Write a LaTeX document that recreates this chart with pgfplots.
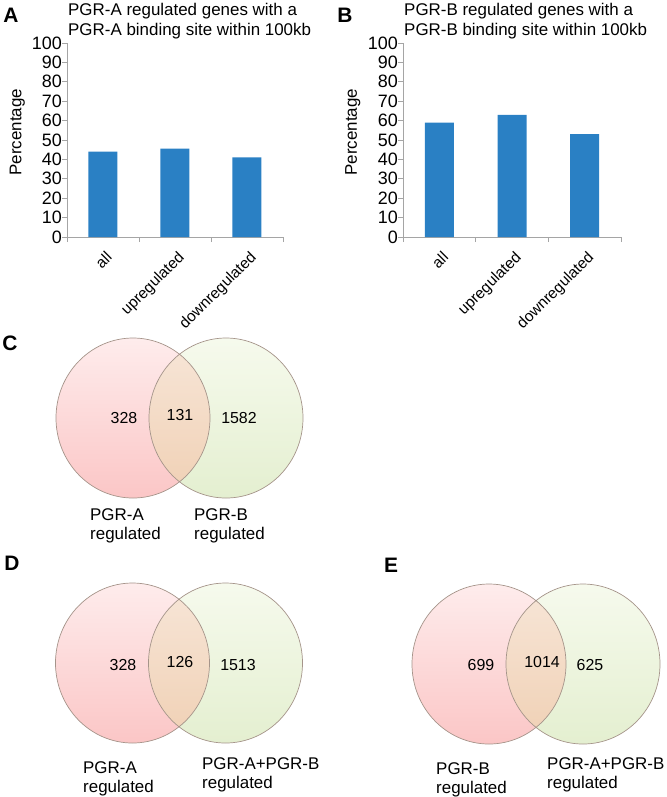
\documentclass[border=0pt]{standalone}
\usepackage{fontspec}
\setmainfont{Liberation Sans}
\usepackage{pgfplots}
\pgfplotsset{compat=1.18}

\definecolor{barblue}{RGB}{42,128,196}
\definecolor{axgray}{RGB}{165,165,165}
\definecolor{pinktop}{RGB}{254,236,236}
\definecolor{pinkbot}{RGB}{251,198,198}
\definecolor{greentop}{RGB}{246,250,237}
\definecolor{greenbot}{RGB}{228,239,208}
\definecolor{mixtop}{RGB}{247,230,216}
\definecolor{mixbot}{RGB}{240,208,180}
\definecolor{vennline}{RGB}{165,148,138}

\newcommand\tickfont{\fontsize{18}{21}\selectfont}
\newcommand\catfont{\fontsize{15.5}{18}\selectfont}
\newcommand\titlefont{\fontsize{17}{20}\selectfont}
\newcommand\numfont{\fontsize{16}{18}\selectfont}
\newcommand\labfont{\fontsize{17}{20}\selectfont}
\newcommand\letterfont{\fontsize{21}{24}\selectfont\bfseries}

\pgfplotsset{
  barpanel/.style={
    scale only axis, height=194bp,
    ymin=0, ymax=100, ytick distance=10,
    xmin=-0.5, xmax=2.5,
    xtick={0,1,2},
    xticklabels={all,upregulated,downregulated},
    minor xtick={-0.5,0.5,1.5,2.5},
    axis x line*=bottom, axis y line*=left,
    axis line style={draw=axgray, line width=0.8bp},
    tick align=outside,
    major x tick style={draw=none},
    major tick length=5bp, minor tick length=5bp,
    every tick/.style={draw=axgray, line width=0.8bp},
    ybar, bar width=29bp,
    /pgf/number format/assume math mode=true,
    yticklabel style={font=\tickfont, inner sep=0pt, anchor=east, xshift=0bp},
    xticklabel style={font=\catfont, inner sep=0pt, xshift=2bp, yshift=-8bp, rotate=45, anchor=north east},
    ylabel={Percentage},
    ylabel style={font=\labfont, at={(axis description cs:-0.23,0.54)}, anchor=center},
  }
}

\newcommand\venn[3]{%
  \shade[top color=pinktop, bottom color=pinkbot] (axis cs:#1,#3) ellipse [x radius=77bp, y radius=80bp];
  \shade[top color=greentop, bottom color=greenbot] (axis cs:#2,#3) ellipse [x radius=77bp, y radius=80bp];
  \begin{scope}
    \clip (axis cs:#1,#3) ellipse [x radius=77bp, y radius=80bp];
    \shade[top color=mixtop, bottom color=mixbot] (axis cs:#2,#3) ellipse [x radius=77bp, y radius=80bp];
  \end{scope}
  \draw[vennline, line width=0.7bp] (axis cs:#1,#3) ellipse [x radius=77bp, y radius=80bp]
    (axis cs:#2,#3) ellipse [x radius=77bp, y radius=80bp];
}

\begin{document}
\begin{tikzpicture}
\useasboundingbox (0,0) rectangle (667bp,-797bp);

% panel A
\begin{axis}[barpanel, width=216bp, at={(67bp,-237bp)}, anchor=south west]
  \addplot[fill=barblue, draw=none] coordinates {(0,44) (1,45.5) (2,41)};
\end{axis}

% panel B
\begin{axis}[barpanel, width=218bp, at={(403bp,-237bp)}, anchor=south west]
  \addplot[fill=barblue, draw=none] coordinates {(0,59) (1,63) (2,53)};
\end{axis}

% titles, Venn panels C, D, E (pixel coordinates, y downwards)
\begin{axis}[scale only axis, width=667bp, height=797bp, at={(0bp,-797bp)}, anchor=south west,
  hide axis, clip=false, xmin=0, xmax=667, ymin=0, ymax=797, y dir=reverse]
  \node[font=\titlefont, align=left, anchor=north west, inner sep=0pt] at (axis cs:68,3)
    {PGR-A regulated genes with a\\PGR-A binding site within 100kb};
  \node[font=\titlefont, align=left, anchor=north west, inner sep=0pt] at (axis cs:404,3)
    {PGR-B regulated genes with a\\PGR-B binding site within 100kb};

  \venn{133}{226}{418}
  \venn{132.5}{225.5}{663}
  \venn{489}{583}{664}

  \node[font=\numfont] at (axis cs:124,418) {328};
  \node[font=\numfont] at (axis cs:180,415) {131};
  \node[font=\numfont] at (axis cs:239,418) {1582};
  \node[font=\numfont] at (axis cs:123,665) {328};
  \node[font=\numfont] at (axis cs:180,662) {126};
  \node[font=\numfont] at (axis cs:238,665) {1513};
  \node[font=\numfont] at (axis cs:481,665) {699};
  \node[font=\numfont] at (axis cs:542,662) {1014};
  \node[font=\numfont] at (axis cs:590,665) {625};

  \node[font=\labfont, align=left, anchor=north west, inner sep=0pt] at (axis cs:90,508) {PGR-A\\regulated};
  \node[font=\labfont, align=left, anchor=north west, inner sep=0pt] at (axis cs:194,508) {PGR-B\\regulated};
  \node[font=\labfont, align=left, anchor=north west, inner sep=0pt] at (axis cs:83,761) {PGR-A\\regulated};
  \node[font=\labfont, align=left, anchor=north west, inner sep=0pt] at (axis cs:202,757) {PGR-A+PGR-B\\regulated};
  \node[font=\labfont, align=left, anchor=north west, inner sep=0pt] at (axis cs:436,762) {PGR-B\\regulated};
  \node[font=\labfont, align=left, anchor=north west, inner sep=0pt] at (axis cs:547,757) {PGR-A+PGR-B\\regulated};

  \node[font=\letterfont] at (axis cs:11,15) {A};
  \node[font=\letterfont] at (axis cs:345,15) {B};
  \node[font=\letterfont] at (axis cs:10,343) {C};
  \node[font=\letterfont] at (axis cs:12,563) {D};
  \node[font=\letterfont] at (axis cs:391,565) {E};
\end{axis}
\end{tikzpicture}
\end{document}
